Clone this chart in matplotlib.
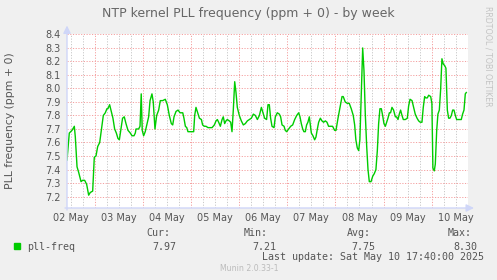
import numpy as np
import matplotlib
matplotlib.use("Agg")
import matplotlib.pyplot as plt
from matplotlib.patches import Rectangle

# hours since 02 May 00:00 and the PLL frequency
hours = [10.2, 11.35, 12.7, 13.85, 14.35, 15.2, 16.0, 17.2, 18.0, 19.0,
         20.0, 21.0, 21.8, 23.0, 23.8, 24.65, 25.5, 26.5, 27.3, 28.3,
         29.3, 30.1, 30.6, 31.45, 32.3, 33.1, 33.95, 34.8, 35.6, 36.3,
         37.1, 37.9, 38.75, 39.6, 40.6, 41.75, 42.6, 43.6, 44.25, 44.6,
         45.9, 46.6, 47.2, 47.7, 48.4, 49.2, 50.1, 50.9, 51.6, 52.55,
         53.2, 54.05, 54.9, 55.9, 56.7,
         57.9, 59.2, 60.2, 61.2, 62.2, 62.9, 63.55, 64.55, 65.55, 66.55,
         67.9, 68.5, 69.2, 69.9, 70.5, 71.2, 72.5, 73.35, 73.85, 74.5,
         75.35, 76.2, 77.2, 77.8, 78.7, 79.5, 80.5, 81.5, 82.5, 83.65,
         84.5, 85.15, 85.8, 86.65, 87.5, 88.1, 88.8, 89.45, 90.1, 91.1,
         91.8, 92.45, 93.1, 93.8, 94.45, 95.1, 96.1, 97.1, 98.1, 99.1,
         100.1, 101.1, 102.1, 103.1, 104.1, 105.1, 106.1, 107.1, 107.7,
         108.7, 109.7, 110.4, 111.05, 111.7, 112.4, 113.4, 114.05, 115.05, 116.05,
         116.7, 117.4, 118.4, 119.0, 119.7, 120.7, 121.7, 122.7, 123.7, 124.7,
         125.7, 126.35, 127.0, 127.7, 128.3, 129.0, 129.65, 130.3, 131.0, 131.5,
         132.0, 132.8, 133.65, 134.3, 135.0, 135.65, 136.5, 137.3, 138.1, 139.0,
         139.8, 140.6, 141.6, 142.6, 143.6, 144.3, 145.3, 146.3, 147.3, 147.9,
         148.9, 149.9, 150.9, 151.9, 152.9, 153.6, 154.2, 154.9, 155.6, 156.2,
         156.9, 157.6,
         158.25, 158.9, 159.6, 160.25, 160.9, 161.75, 162.6, 163.4, 164.2, 164.9,
         165.55, 166.2, 166.9, 167.55, 168.2, 168.9, 169.55, 170.2, 170.9, 171.5,
         172.2, 173.0, 173.9, 174.5, 175.2, 175.85, 176.5, 177.2, 177.85, 178.85,
         179.85, 180.5, 181.2, 182.2, 183.0, 183.8, 184.7, 185.5, 186.3, 187.15,
         187.8, 188.5, 189.1, 189.8, 190.5, 191.5, 192.1, 192.6, 193.3, 193.8,
         194.5, 195.1, 195.8, 196.45, 197.1, 197.8, 198.45, 199.1, 199.8, 200.45,
         201.1, 201.8, 202.45, 203.1, 203.8, 204.45, 205.45, 206.75, 207.4, 208.1,
         208.75, 209.25]
freq = [7.47, 7.67, 7.69, 7.72, 7.64, 7.42, 7.38, 7.31, 7.32, 7.32,
        7.29, 7.21, 7.23, 7.24, 7.49, 7.50, 7.57, 7.60, 7.69, 7.80,
        7.82, 7.85, 7.85, 7.88, 7.83, 7.78, 7.70, 7.67, 7.63, 7.62,
        7.70, 7.78, 7.79, 7.74, 7.69, 7.67, 7.65, 7.65, 7.67, 7.70,
        7.70, 7.72, 7.96, 7.69, 7.65, 7.68, 7.74, 7.79, 7.91, 7.96,
        7.90, 7.70, 7.80, 7.84, 7.91,
        7.91, 7.92, 7.88, 7.80, 7.74, 7.73, 7.79, 7.83, 7.84, 7.82,
        7.82, 7.78, 7.72, 7.71, 7.68, 7.68, 7.68, 7.68, 7.80, 7.86,
        7.82, 7.78, 7.77, 7.73, 7.72, 7.72, 7.71, 7.71, 7.71, 7.73,
        7.76, 7.77, 7.75, 7.72, 7.77, 7.79, 7.74, 7.76, 7.77, 7.76,
        7.75, 7.68, 7.84, 8.05, 7.97, 7.86, 7.80, 7.76, 7.73, 7.74,
        7.76, 7.77, 7.78, 7.81, 7.80, 7.77, 7.80, 7.86, 7.83,
        7.78, 7.77, 7.88, 7.88, 7.78, 7.72, 7.71, 7.79, 7.82, 7.81,
        7.79, 7.73, 7.72, 7.69, 7.68, 7.70, 7.72, 7.73, 7.77, 7.80,
        7.82, 7.79, 7.74, 7.70, 7.68, 7.68, 7.73, 7.75, 7.79, 7.73,
        7.67, 7.65, 7.62, 7.64, 7.70, 7.75, 7.78, 7.76, 7.75, 7.76,
        7.75, 7.72, 7.72, 7.72, 7.69, 7.69, 7.78, 7.86, 7.94, 7.94,
        7.90, 7.89, 7.89, 7.85, 7.80, 7.73, 7.62, 7.56, 7.54, 7.62,
        7.96, 8.30,
        8.13, 7.81, 7.57, 7.40, 7.31, 7.31, 7.35, 7.37, 7.40, 7.54,
        7.74, 7.85, 7.85, 7.80, 7.74, 7.72, 7.75, 7.78, 7.82, 7.82,
        7.86, 7.84, 7.79, 7.79, 7.77, 7.81, 7.84, 7.80, 7.77, 7.77,
        7.78, 7.87, 7.92, 7.91, 7.86, 7.81, 7.78, 7.76, 7.75, 7.75,
        7.86, 7.94, 7.93, 7.93, 7.95, 7.94, 7.89, 7.41, 7.39, 7.44,
        7.69, 7.81, 7.84, 7.99, 8.22, 8.18, 8.17, 8.15, 7.84, 7.78,
        7.78, 7.80, 7.84, 7.84, 7.80, 7.77, 7.77, 7.77, 7.81, 7.84,
        7.96, 7.97]

day_labels = ["02 May", "03 May", "04 May", "05 May", "06 May",
              "07 May", "08 May", "09 May", "10 May"]
legend_heads = ["Cur:", "Min:", "Avg:", "Max:"]
legend_vals = ["7.97", "7.21", "7.75", "8.30"]

W, H = 497, 280
TXT = "#555555"
fig = plt.figure(figsize=(W / 100, H / 100), dpi=100, facecolor="#F0F0F0")


def fx(x):
    return x / W


def fy(y):
    return 1 - y / H


# plot canvas
ax = fig.add_axes([fx(67), fy(208), 401 / W, 174.5 / H])
ax.set_facecolor("white")
ax.set_xlim(10.2, 210.1)
ax.set_ylim(7.115, 8.407)
for s in ax.spines.values():
    s.set_visible(False)

# grid: minor every 6h, major at midnight and every 0.1
for h in range(12, 211, 6):
    if h % 24:
        ax.axvline(h, color="#C8C8C8", lw=0.7, ls=(0, (1.2, 1.6)), zorder=1)
for d in range(1, 9):
    ax.axvline(24 * d, color="#F4A0A0", lw=0.7, ls=(0, (1.2, 1.6)), zorder=1)
yt = np.round(np.arange(7.2, 8.41, 0.1), 1)
for v in yt:
    ax.axhline(v, color="#F4A0A0", lw=0.7, ls=(0, (1.2, 1.6)), zorder=1)

ax.plot(hours, freq, color="#00CC00", lw=1.0, zorder=3)

ax.set_yticks(yt)
ax.set_yticklabels([f"{v:.1f}" for v in yt])
ax.set_xticks([12 + 24 * i for i in range(len(day_labels))])
ax.set_xticklabels(day_labels)
ax.tick_params(axis="y", length=0, pad=4.5, labelsize=7, labelcolor=TXT)
ax.tick_params(axis="x", length=0, pad=3.5, labelsize=7, labelcolor=TXT)

# axis lines with arrows
axis_col = "#CFD6F8"
arrow = dict(arrowstyle="-|>,head_length=0.45,head_width=0.22", color=axis_col,
             lw=1.0, shrinkA=0, shrinkB=0)
ax.annotate("", xy=(0, 1 + 8 / 174.5), xytext=(0, -2 / 174.5),
            xycoords="axes fraction", arrowprops=arrow, zorder=4)
ax.annotate("", xy=(1 + 6 / 401, 0), xytext=(-2 / 401, 0),
            xycoords="axes fraction", arrowprops=arrow, zorder=4)

fig.text(fx(248), fy(13), "NTP kernel PLL frequency (ppm + 0) - by week",
         ha="center", va="center", fontsize=9, color="#666666")
fig.text(fx(10.5), fy(121), "PLL frequency (ppm + 0)", rotation=90,
         ha="center", va="center", fontsize=7.8, color=TXT)
fig.text(fx(488), fy(56), "RRDTOOL / TOBI OETIKER", rotation=270,
         ha="center", va="center", fontsize=5.7, color="#C4C4C4")

# legend
mono = "DejaVu Sans Mono"
fig.patches.append(Rectangle((fx(14), fy(249)), 6 / W, 6 / H,
                             transform=fig.transFigure, color="#00CC00"))
fig.text(fx(27), fy(246.7), "pll-freq", ha="left", va="center",
         fontsize=7.2, family=mono, color=TXT)
head_x = [146, 244, 346.7, 447.7]
val_x = [152, 252.7, 351.7, 453]
for hx, vx, hd, vl in zip(head_x, val_x, legend_heads, legend_vals):
    fig.text(fx(hx), fy(233.3), hd, ha="left", va="center",
             fontsize=7.2, family=mono, color=TXT)
    fig.text(fx(vx), fy(246.7), vl, ha="left", va="center",
             fontsize=7.2, family=mono, color=TXT)
fig.text(fx(261.7), fy(257.3), "Last update: Sat May 10 17:40:00 2025",
         ha="left", va="center", fontsize=7.2, family=mono, color=TXT)
fig.text(fx(278.3), fy(268.3), "Munin 2.0.33-1", ha="right", va="center",
         fontsize=5.6, color="#BBBBBB")

fig.savefig("out.png", dpi=100, facecolor=fig.get_facecolor())
